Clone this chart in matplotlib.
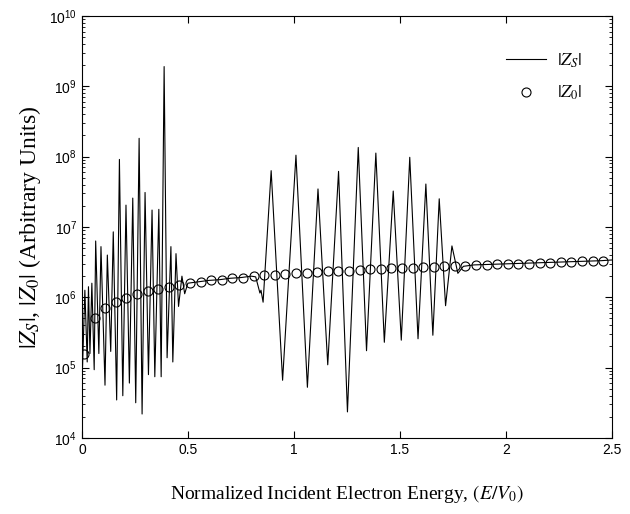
import numpy as np
import matplotlib
matplotlib.use("Agg")
import matplotlib.pyplot as plt
from matplotlib.ticker import FixedLocator, FuncFormatter, LogLocator, NullFormatter

plt.rcParams['font.family'] = ['Liberation Serif', 'DejaVu Serif']
plt.rcParams['mathtext.fontset'] = 'stix'

# |Zs| : peaks and troughs (x, log10 value)
zs_x = [0.0, 0.003, 0.014, 0.025, 0.031, 0.038, 0.047, 0.058, 0.065, 0.080,
        0.090, 0.109, 0.120, 0.136, 0.148, 0.164, 0.177, 0.193, 0.208, 0.224,
        0.240, 0.254, 0.270, 0.284, 0.298, 0.314, 0.331, 0.344, 0.363, 0.374,
        0.388, 0.402, 0.420, 0.429, 0.444, 0.456, 0.472, 0.485, 0.50,
        0.55, 0.60, 0.65, 0.70, 0.75, 0.80, 0.82, 0.84, 0.845, 0.855,
        0.893, 0.947, 1.010, 1.064, 1.114, 1.160, 1.211, 1.253, 1.304, 1.343,
        1.387, 1.427, 1.469, 1.507, 1.547, 1.586, 1.623, 1.656, 1.686, 1.716,
        1.746, 1.774, 1.80, 1.85, 1.95, 2.05, 2.15, 2.25, 2.35, 2.45, 2.5]
zs_log = [5.30, 5.01, 6.10, 5.08, 6.15, 5.20, 6.20, 4.97, 6.80, 5.20,
          6.72, 4.75, 6.60, 5.23, 6.93, 4.54, 7.96, 4.60, 7.31, 4.78,
          7.41, 4.50, 8.26, 4.34, 7.49, 4.90, 7.24, 4.87, 7.25, 4.87,
          9.28, 5.14, 6.72, 5.08, 6.62, 5.87, 6.30, 6.05, 6.20,
          6.22, 6.24, 6.25, 6.27, 6.28, 6.30, 6.29, 6.06, 6.10, 5.93,
          7.80, 4.82, 8.02, 4.72, 7.54, 5.04, 7.79, 4.37, 8.13, 5.24,
          8.05, 5.36, 7.51, 5.39, 7.99, 5.41, 7.61, 5.46, 7.40, 5.88,
          6.73, 6.34, 6.44, 6.46, 6.47, 6.48, 6.49, 6.50, 6.51, 6.52, 6.53]

# |Z0| : circles
z0_x = [0.01, 0.06, 0.11, 0.16, 0.21, 0.26, 0.31, 0.36, 0.41, 0.46,
        0.51, 0.56, 0.61, 0.66, 0.71, 0.76, 0.81, 0.86, 0.91, 0.96,
        1.01, 1.06, 1.11, 1.16, 1.21, 1.26, 1.31, 1.36, 1.41, 1.46,
        1.51, 1.56, 1.61, 1.66, 1.71, 1.76, 1.81, 1.86, 1.91, 1.96,
        2.01, 2.06, 2.11, 2.16, 2.21, 2.26, 2.31, 2.36, 2.41, 2.46]
z0_log = [5.19, 5.71, 5.85, 5.93, 5.99, 6.05, 6.09, 6.12, 6.15, 6.18,
          6.20, 6.22, 6.24, 6.25, 6.27, 6.28, 6.30, 6.31, 6.32, 6.33,
          6.34, 6.35, 6.36, 6.37, 6.37, 6.38, 6.39, 6.40, 6.40, 6.41,
          6.42, 6.42, 6.43, 6.43, 6.44, 6.44, 6.45, 6.46, 6.46, 6.47,
          6.47, 6.48, 6.48, 6.49, 6.49, 6.50, 6.50, 6.51, 6.51, 6.52]

xticks = [0, 0.5, 1, 1.5, 2, 2.5]

fig = plt.figure(figsize=(6.3, 5.14), dpi=100)
ax = fig.add_axes([0.130, 0.148, 0.841, 0.821])

ax.plot(zs_x, 10.0 ** np.array(zs_log), color='black', lw=0.8, label=r'$|Z_S|$')
ax.plot(z0_x, 10.0 ** np.array(z0_log), 'o', mfc='none', mec='black', ms=6.5,
        mew=0.8, label=r'$|Z_0|$')

ax.set_yscale('log')
ax.set_xlim(0, 2.5)
ax.set_ylim(1e4, 1e10)

ax.xaxis.set_major_locator(FixedLocator(xticks))
ax.xaxis.set_major_formatter(FuncFormatter(lambda v, p: '%g' % v))
ax.yaxis.set_major_locator(LogLocator(base=10, numticks=12))
ax.yaxis.set_minor_locator(LogLocator(base=10, subs=np.arange(2, 10), numticks=12))
ax.yaxis.set_minor_formatter(NullFormatter())
ax.yaxis.set_major_formatter(FuncFormatter(
    lambda v, p: r'$\mathdefault{10^{%d}}$' % round(np.log10(v))))

ax.tick_params(which='both', direction='in', top=True, right=True)
ax.tick_params(which='major', length=5, labelsize=10, labelfontfamily='Liberation Sans')
ax.tick_params(which='minor', length=2.5)

ax.set_xlabel(r'Normalized Incident Electron Energy, $(E/V_0)$', fontsize=14, labelpad=19)
ax.set_ylabel(r'$|Z_S|$, $|Z_0|$ (Arbitrary Units)', fontsize=17, labelpad=4)

leg = ax.legend(loc='upper right', bbox_to_anchor=(0.975, 0.955), frameon=False,
                fontsize=13, handlelength=2.2, handletextpad=0.6, labelspacing=0.8)

fig.savefig('out.png', dpi=100)
